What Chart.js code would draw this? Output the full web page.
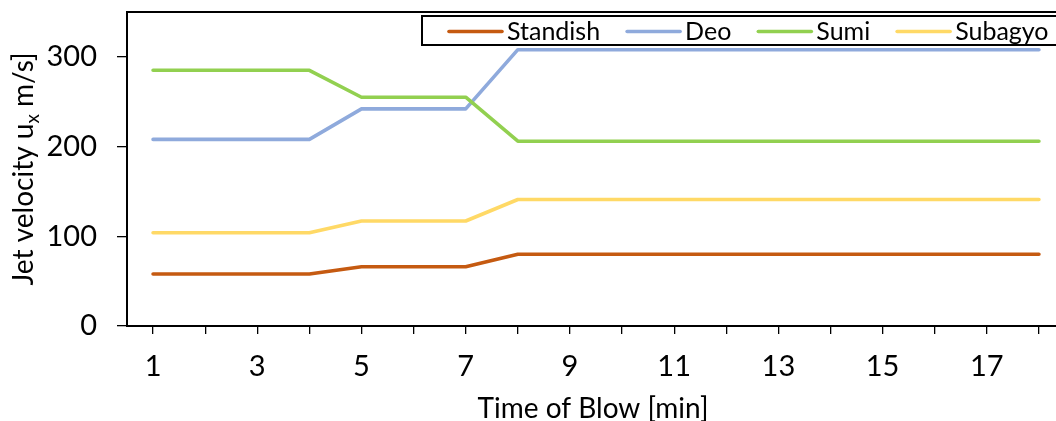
<!DOCTYPE html>
<html>
<head>
<meta charset="utf-8">
<script src="https://cdn.jsdelivr.net/npm/chart.js@4.4.0/dist/chart.umd.min.js"></script>
<style>
html, body { margin: 0; padding: 0; background: #fff; overflow: hidden; }
#wrap { width: 1090px; height: 421px; }
</style>
</head>
<body>
<div id="wrap"><canvas id="myChart" width="1090" height="421"></canvas></div>
<script>
// data block
const minutes = ['1', '2', '3', '4', '5', '6', '7', '8', '9', '10', '11', '12', '13', '14', '15', '16', '17', '18'];
const standish = [58, 58, 58, 58, 66, 66, 66, 80, 80, 80, 80, 80, 80, 80, 80, 80, 80, 80];
const deo = [208, 208, 208, 208, 242, 242, 242, 308, 308, 308, 308, 308, 308, 308, 308, 308, 308, 308];
const sumi = [285, 285, 285, 285, 255, 255, 255, 206, 206, 206, 206, 206, 206, 206, 206, 206, 206, 206];
const subagyo = [104, 104, 104, 104, 117, 117, 117, 141, 141, 141, 141, 141, 141, 141, 141, 141, 141, 141];
const yTicks = [0, 100, 200, 300];
const yMax = 350;

const FONT = 'Lato';

function line(label, values, color, order) {
    return {
        label: label,
        data: values,
        borderColor: color,
        backgroundColor: color,
        borderWidth: 3.6,
        borderCapStyle: 'round',
        borderJoinStyle: 'round',
        pointRadius: 0,
        tension: 0,
        order: order
    };
}

const data = {
    labels: minutes,
    datasets: [
        line('Standish', standish, '#C55A11', 4),
        line('Deo', deo, '#8FAADC', 3),
        line('Sumi', sumi, '#92D050', 2),
        line('Subagyo', subagyo, '#FFD966', 1)
    ]
};

// frame line on top + axis titles + boxed legend
const extras = {
    id: 'extras',
    afterDraw(chart) {
        const ctx = chart.ctx;
        const a = chart.chartArea;
        ctx.save();

        // top frame
        ctx.strokeStyle = '#000';
        ctx.lineWidth = 2;
        ctx.beginPath();
        ctx.moveTo(a.left - 1, a.top);
        ctx.lineTo(a.right, a.top);
        ctx.stroke();

        // x title
        ctx.fillStyle = '#000';
        ctx.font = '28px ' + FONT;
        ctx.textAlign = 'center';
        ctx.textBaseline = 'alphabetic';
        ctx.fillText('Time of Blow [min]', (a.left + a.right) / 2 - 3, 418);

        // y title with subscript
        const parts = [['Jet velocity u', 28, 0], ['x', 19, 6], [' m/s]', 28, 0]];
        let total = 0;
        parts.forEach(p => { ctx.font = p[1] + 'px ' + FONT; total += ctx.measureText(p[0]).width; });
        ctx.translate(33, (a.top + a.bottom) / 2);
        ctx.rotate(-Math.PI / 2);
        ctx.textAlign = 'left';
        let x = -total / 2;
        parts.forEach(p => {
            ctx.font = p[1] + 'px ' + FONT;
            ctx.fillText(p[0], x, p[2]);
            x += ctx.measureText(p[0]).width;
        });
        ctx.setTransform(1, 0, 0, 1, 0, 0);

        // legend
        ctx.font = '25px ' + FONT;
        const boxLeft = a.left + 295;
        const boxTop = a.top + 4;
        const boxH = 29;
        const midY = boxTop + boxH / 2 + 1;
        let lx = boxLeft + 27;
        const items = chart.data.datasets.map(ds => {
            const it = { x: lx, ds: ds };
            lx += 53 + 5 + ctx.measureText(ds.label).width + 27;
            return it;
        });
        ctx.fillStyle = '#fff';
        ctx.fillRect(boxLeft, boxTop, lx - boxLeft, boxH);
        ctx.strokeStyle = '#000';
        ctx.lineWidth = 2;
        ctx.strokeRect(boxLeft, boxTop, lx - boxLeft, boxH);
        ctx.textAlign = 'left';
        ctx.textBaseline = 'middle';
        items.forEach(it => {
            ctx.strokeStyle = it.ds.borderColor;
            ctx.lineWidth = 3.6;
            ctx.lineCap = 'round';
            ctx.beginPath();
            ctx.moveTo(it.x, midY);
            ctx.lineTo(it.x + 53, midY);
            ctx.stroke();
            ctx.fillStyle = '#000';
            ctx.fillText(it.ds.label, it.x + 58, midY);
        });
        ctx.restore();
    }
};

// config block
const config = {
    type: 'line',
    data: data,
    options: {
        responsive: false,
        animation: false,
        layout: { padding: { top: 12, right: 25, left: 0, bottom: 0 } },
        plugins: {
            legend: { display: false },
            tooltip: { enabled: false }
        },
        scales: {
            x: {
                offset: true,
                afterFit: function (scale) {
                    scale.height = 95;
                    scale.paddingLeft = 0;
                    scale.paddingRight = 0;
                },
                border: { display: true, color: '#000', width: 2 },
                grid: {
                    offset: false,
                    drawOnChartArea: false,
                    drawTicks: true,
                    tickLength: 8,
                    color: '#000',
                    lineWidth: 1.3
                },
                ticks: {
                    autoSkip: false,
                    maxRotation: 0,
                    padding: 15,
                    color: '#000',
                    font: { family: FONT, size: 29 },
                    callback: function (value, index) {
                        return index % 2 === 0 ? this.getLabelForValue(value) : '';
                    }
                }
            },
            y: {
                min: 0,
                max: yMax,
                afterFit: function (scale) {
                    scale.width = 127;
                    scale.paddingTop = 0;
                    scale.paddingBottom = 0;
                },
                afterBuildTicks: function (scale) {
                    scale.ticks = yTicks.concat([yMax]).map(v => ({ value: v }));
                },
                border: { display: true, color: '#000', width: 2 },
                grid: {
                    drawOnChartArea: false,
                    drawTicks: true,
                    tickLength: 10,
                    color: '#000',
                    tickColor: ctx => (ctx.tick && ctx.tick.value === yMax) ? 'rgba(0,0,0,0)' : '#000',
                    lineWidth: 1.3
                },
                ticks: {
                    padding: 20,
                    color: '#000',
                    font: { family: FONT, size: 29 },
                    callback: v => (yTicks.indexOf(v) >= 0 ? String(v) : '')
                }
            }
        }
    },
    plugins: [extras]
};

// render block
const myChart = new Chart(document.getElementById('myChart'), config);
</script>
</body>
</html>
